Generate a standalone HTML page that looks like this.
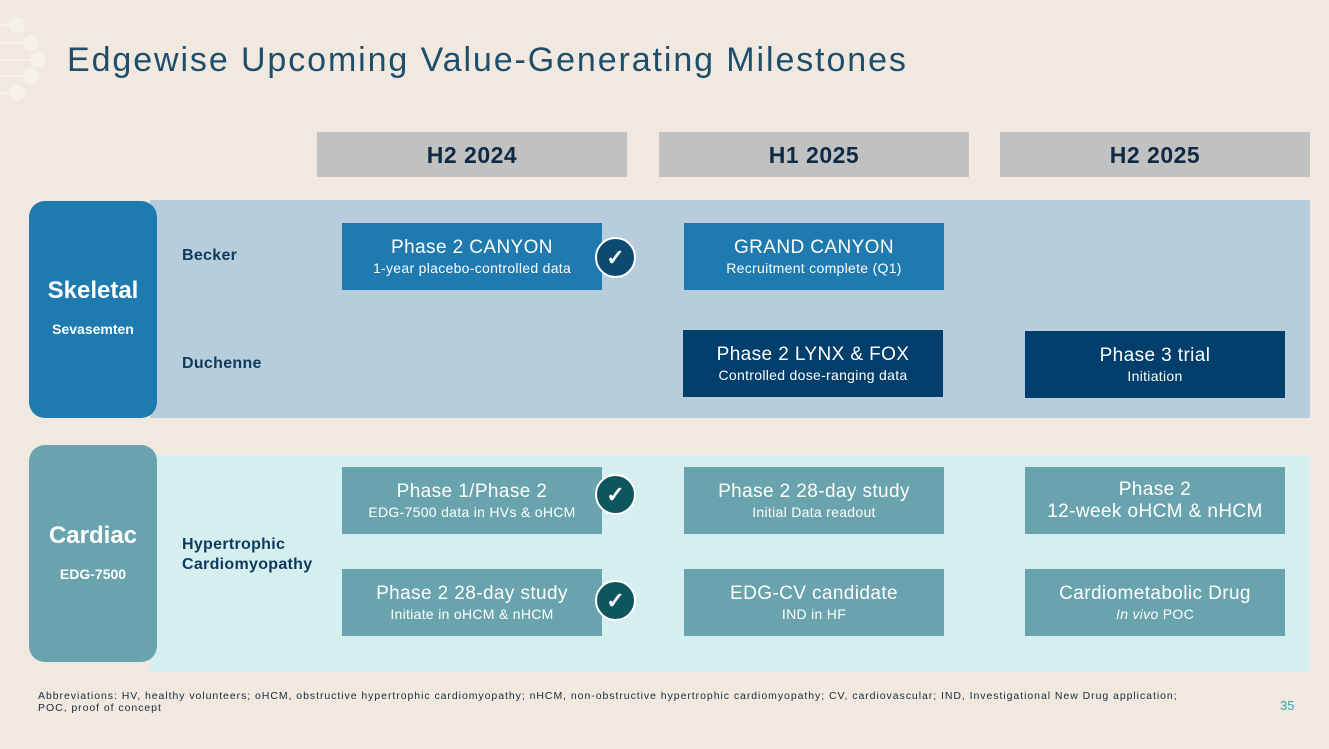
<!DOCTYPE html>
<html><head><meta charset="utf-8"><style>
body{margin:0;width:1329px;height:749px;background:#f1e9e0;position:relative;overflow:hidden;font-family:"Liberation Sans",sans-serif}
.a{position:absolute}
.hdr{position:absolute;top:132px;width:310px;height:45px;background:#c1c1c1;color:#0e2a44;font-weight:bold;font-size:23px;text-align:center;line-height:46px;letter-spacing:0.5px}
.box{position:absolute;width:260px;height:67px;color:#fff;text-align:center;display:flex;flex-direction:column;justify-content:center}
.box .t{font-size:19px;line-height:22px;letter-spacing:0.4px}
.box .s{font-size:14px;line-height:18px;letter-spacing:0.3px}
.lbl{position:absolute;color:#0d3a5c;font-weight:bold;font-size:16px;line-height:20px;letter-spacing:0.3px}
.chk{position:absolute;width:37px;height:37px;border-radius:50%;border:2px solid #fff;color:#fff;font-size:22px;text-align:center;line-height:37px;font-weight:bold}
</style></head><body>
<svg class="a" style="left:0;top:0" width="60" height="110">
<g stroke="#f6f1eb" stroke-width="2" fill="#f6f1eb">
<line x1="0" y1="25" x2="17" y2="25"/><circle cx="17" cy="25" r="7"/>
<line x1="0" y1="43" x2="31" y2="43"/><circle cx="31" cy="43" r="7"/>
<line x1="0" y1="60" x2="38" y2="60"/><circle cx="38" cy="60" r="7"/>
<line x1="0" y1="76" x2="31" y2="76"/><circle cx="31" cy="76" r="7"/>
<line x1="0" y1="93" x2="17" y2="93"/><circle cx="17" cy="93" r="7"/>
</g></svg>
<div class="a" style="left:67px;top:41px;font-size:34px;color:#1d4e6b;letter-spacing:1.9px">Edgewise Upcoming Value-Generating Milestones</div>
<div class="hdr" style="left:317px">H2 2024</div>
<div class="hdr" style="left:659px">H1 2025</div>
<div class="hdr" style="left:1000px">H2 2025</div>

<div class="a" style="left:150px;top:200px;width:1160px;height:218px;background:#b8cddb"></div>
<div class="a" style="left:29px;top:201px;width:128px;height:217px;background:#1e7bb0;border-radius:16px;color:#fff;text-align:center;font-weight:bold">
<div style="margin-top:76px;font-size:24px">Skeletal</div><div style="margin-top:16px;font-size:14px">Sevasemten</div></div>
<div class="lbl" style="left:182px;top:246px">Becker</div>
<div class="lbl" style="left:182px;top:354px">Duchenne</div>
<div class="box" style="left:342px;top:223px;background:#1f7ab0"><div class="t">Phase 2 CANYON</div><div class="s">1-year placebo-controlled data</div></div>
<div class="box" style="left:684px;top:223px;background:#1f7ab0"><div class="t">GRAND CANYON</div><div class="s">Recruitment complete (Q1)</div></div>
<div class="box" style="left:683px;top:330px;background:#003e6b"><div class="t">Phase 2 LYNX &amp; FOX</div><div class="s">Controlled dose-ranging data</div></div>
<div class="box" style="left:1025px;top:331px;background:#003e6b"><div class="t">Phase 3 trial</div><div class="s">Initiation</div></div>
<div class="chk" style="left:595px;top:237px;background:#0c4a70">✓</div>

<div class="a" style="left:150px;top:455px;width:1160px;height:217px;background:#d5eef0"></div>
<div class="a" style="left:29px;top:445px;width:128px;height:217px;background:#69a3ad;border-radius:16px;color:#fff;text-align:center;font-weight:bold">
<div style="margin-top:77px;font-size:24px">Cardiac</div><div style="margin-top:16px;font-size:14px">EDG-7500</div></div>
<div class="lbl" style="left:182px;top:535px">Hypertrophic<br>Cardiomyopathy</div>
<div class="box" style="left:342px;top:467px;background:#69a3ad"><div class="t">Phase 1/Phase 2</div><div class="s">EDG-7500 data in HVs &amp; oHCM</div></div>
<div class="box" style="left:684px;top:467px;background:#69a3ad"><div class="t">Phase 2 28-day study</div><div class="s">Initial Data readout</div></div>
<div class="box" style="left:1025px;top:467px;background:#69a3ad"><div class="t">Phase 2</div><div class="t">12-week oHCM &amp; nHCM</div></div>
<div class="box" style="left:342px;top:569px;background:#69a3ad"><div class="t">Phase 2 28-day study</div><div class="s">Initiate in oHCM &amp; nHCM</div></div>
<div class="box" style="left:684px;top:569px;background:#69a3ad"><div class="t">EDG-CV candidate</div><div class="s">IND in HF</div></div>
<div class="box" style="left:1025px;top:569px;background:#69a3ad"><div class="t">Cardiometabolic Drug</div><div class="s"><i>In vivo</i> POC</div></div>
<div class="chk" style="left:595px;top:474px;background:#0e5560">✓</div>
<div class="chk" style="left:595px;top:580px;background:#0e5560">✓</div>

<div class="a" style="left:38px;top:690px;font-size:10.5px;line-height:12px;color:#1a2a3a;letter-spacing:0.95px;white-space:nowrap">Abbreviations: HV, healthy volunteers; oHCM, obstructive hypertrophic cardiomyopathy; nHCM, non-obstructive hypertrophic cardiomyopathy; CV, cardiovascular; IND, Investigational New Drug application;<br>POC, proof of concept</div>
<div class="a" style="left:1280px;top:698px;font-size:13px;color:#3aa0b0">35</div>
</body></html>
